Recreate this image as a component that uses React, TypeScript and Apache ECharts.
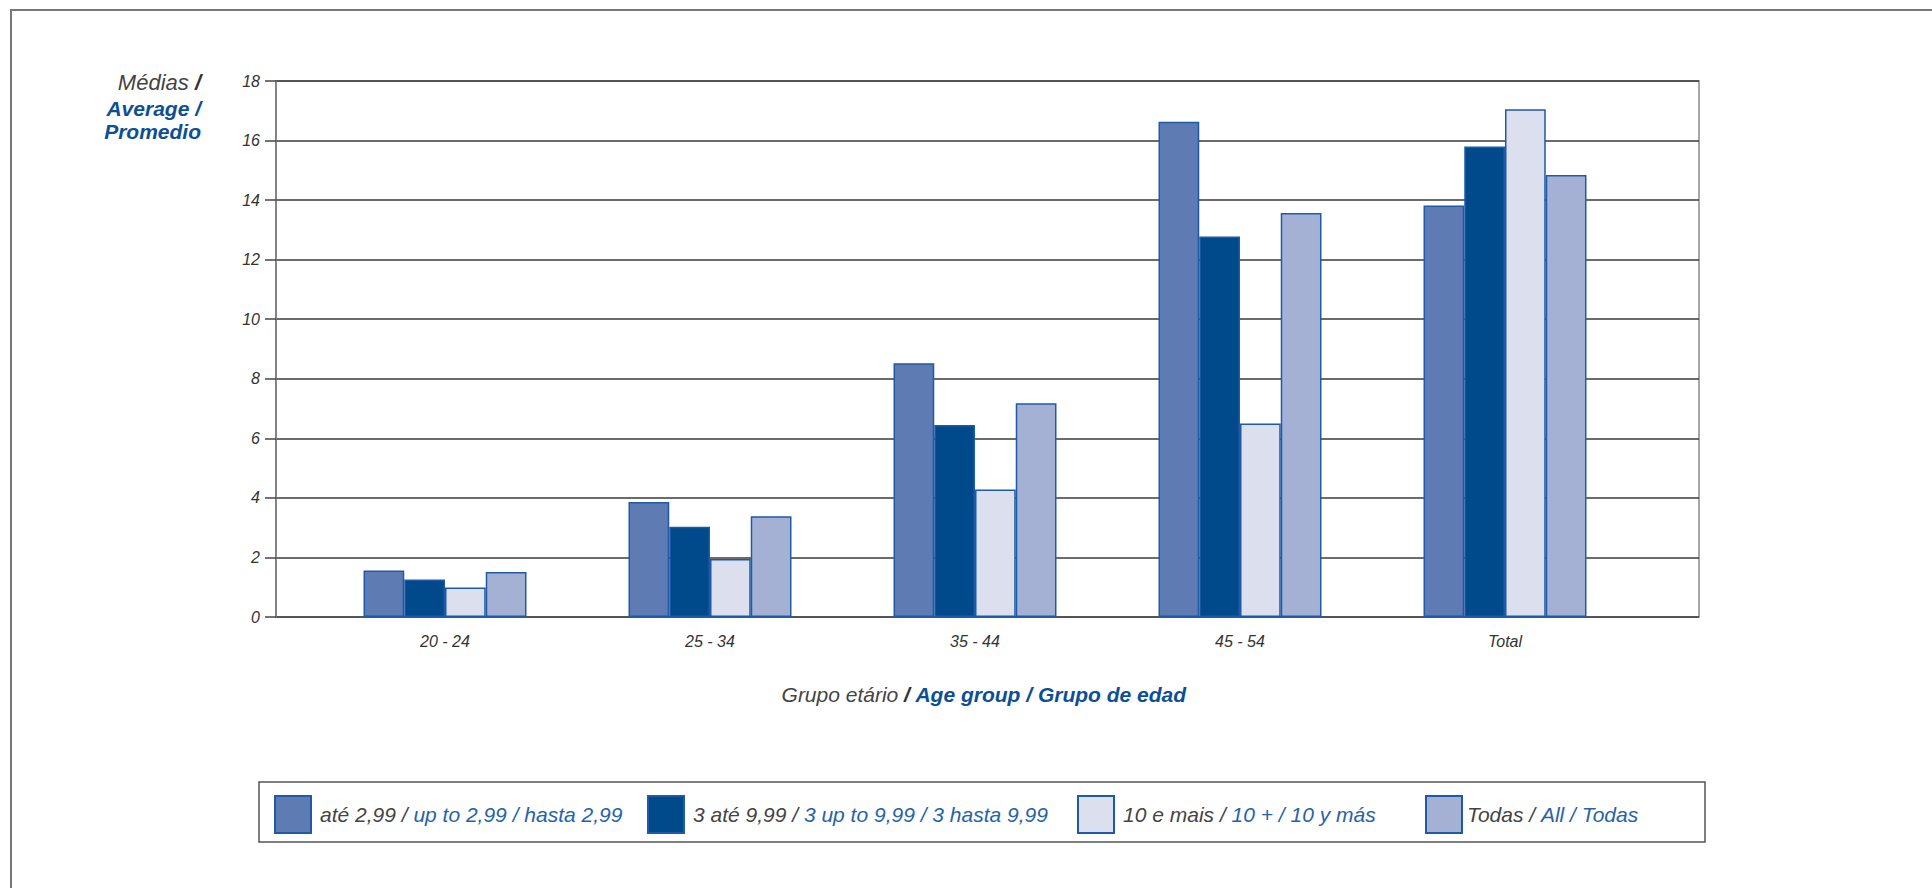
import React, { useEffect, useRef } from "react";
import * as echarts from "echarts";

const categories = ["20 - 24", "25 - 34", "35 - 44", "45 - 54", "Total"];
const seriesNames = ["até 2,99", "3 até 9,99", "10 e mais", "Todas"];
const upTo299 = [1.56, 3.86, 8.52, 16.63, 13.82];
const from3to999 = [1.26, 3.03, 6.45, 12.78, 15.8];
const tenPlus = [0.99, 1.95, 4.28, 6.5, 17.05];
const allFirms = [1.51, 3.38, 7.18, 13.57, 14.84];
const yTicks = { min: 0, max: 18, interval: 2 };

const legendGray = ["até 2,99 / ", "3 até 9,99 / ", "10 e mais / ", "Todas / "];
const legendBlue = ["up to 2,99 / hasta 2,99", "3 up to 9,99 / 3 hasta 9,99", "10 + / 10 y más", "All / Todas"];

const fills = ["#5f7bb3", "#004a8c", "#dbdfee", "#a4b1d4"];
const FONT = "'Liberation Sans', Arial, sans-serif";

export default function App() {
  const ref = useRef<HTMLDivElement>(null);
  useEffect(() => {
    if (!ref.current) return;
    const chart = echarts.init(ref.current, null, { renderer: "svg" });
    const dataSets = [upTo299, from3to999, tenPlus, allFirms];
    const legendLefts = [274, 647, 1077, 1425];
    const option: any = {
      animation: false,
      backgroundColor: "#ffffff",
      textStyle: { fontFamily: FONT },
      grid: [
        { left: 276, top: 81, width: 1423, height: 536, show: true, borderColor: "#8a8a8a", borderWidth: 1.5, backgroundColor: "transparent" },
        { left: 312.5, top: 81, width: 1325, height: 536 },
      ],
      xAxis: [
        { gridIndex: 0, type: "category", data: categories, show: false },
        {
          gridIndex: 1,
          type: "category",
          data: categories,
          axisLine: { show: false },
          axisTick: { show: false },
          axisLabel: { margin: 16, fontSize: 16, fontStyle: "italic", fontWeight: "normal", color: "#333", fontFamily: FONT },
        },
      ],
      yAxis: [
        {
          gridIndex: 0,
          type: "value",
          min: yTicks.min,
          max: yTicks.max,
          interval: yTicks.interval,
          axisLine: { show: true, lineStyle: { color: "#7a7a7a", width: 1.5 } },
          axisTick: { show: true, length: 11, lineStyle: { color: "#444", width: 1.5 } },
          axisLabel: { margin: 16, fontSize: 16, fontStyle: "italic", fontWeight: "normal", color: "#333", fontFamily: FONT },
          splitLine: { show: true, lineStyle: { color: "#3a3a3a", width: 1.5 } },
        },
        { gridIndex: 1, type: "value", min: yTicks.min, max: yTicks.max, interval: yTicks.interval, show: false, splitLine: { show: false } },
      ],
      legend: seriesNames.map((name, i) => ({
        data: [name],
        left: legendLefts[i],
        top: 795,
        padding: 0,
        itemWidth: 36,
        itemHeight: 37,
        icon: "rect",
        selectedMode: false,
        formatter: () => `{g|${legendGray[i]}}{b|${legendBlue[i]}}`,
        textStyle: {
          fontFamily: FONT,
          fontSize: 21,
          fontStyle: "italic",
          padding: [0, 0, 0, i === 3 ? 0 : 4],
          rich: {
            g: { color: "#444", fontSize: 21, fontStyle: "italic", fontFamily: FONT },
            b: { color: "#2563a9", fontSize: 21, fontStyle: "italic", fontFamily: FONT },
          },
        },
      })),
      series: seriesNames.map((name, i) => ({
        name,
        type: "bar",
        xAxisIndex: 1,
        yAxisIndex: 1,
        data: dataSets[i],
        barGap: "0%",
        barCategoryGap: "38.5%",
        itemStyle: { color: fills[i], borderColor: "#1f5aa6", borderWidth: 1.5 },
      })),
      graphic: [
        { type: "rect", shape: { x: 11, y: 10, width: 2000, height: 1000 }, style: { fill: "none", stroke: "#777", lineWidth: 2 }, silent: true },
        { type: "rect", shape: { x: 259, y: 782, width: 1446, height: 60 }, style: { fill: "none", stroke: "#555", lineWidth: 1.5 }, silent: true },
        {
          type: "text",
          x: 201,
          y: 82,
          style: {
            text: "{g|Médias }{s|/}",
            align: "right",
            verticalAlign: "middle",
            rich: {
              g: { fontFamily: FONT, fontSize: 22, fontStyle: "italic", fill: "#444" },
              s: { fontFamily: FONT, fontSize: 22, fontStyle: "italic", fontWeight: "bold", fill: "#333" },
            },
          },
        },
        {
          type: "text",
          x: 201,
          y: 108,
          style: { text: "Average /", align: "right", verticalAlign: "middle", fontFamily: FONT, fontSize: 21, fontStyle: "italic", fontWeight: "bold", fill: "#0d4f96" },
        },
        {
          type: "text",
          x: 201,
          y: 131,
          style: { text: "Promedio", align: "right", verticalAlign: "middle", fontFamily: FONT, fontSize: 21, fontStyle: "italic", fontWeight: "bold", fill: "#0d4f96" },
        },
        {
          type: "text",
          x: 984,
          y: 694,
          style: {
            text: "{g|Grupo etário }{s|/}{b| Age group / Grupo de edad}",
            align: "center",
            verticalAlign: "middle",
            rich: {
              g: { fontFamily: FONT, fontSize: 21, fontStyle: "italic", fill: "#444" },
              s: { fontFamily: FONT, fontSize: 21, fontStyle: "italic", fontWeight: "bold", fill: "#333" },
              b: { fontFamily: FONT, fontSize: 21, fontStyle: "italic", fontWeight: "bold", fill: "#0d4f96" },
            },
          },
        },
      ],
    };
    chart.setOption(option);
    return () => chart.dispose();
  }, []);
  return <div ref={ref} style={{ position: "fixed", left: 0, top: 0, width: 1932, height: 888 }} />;
}
